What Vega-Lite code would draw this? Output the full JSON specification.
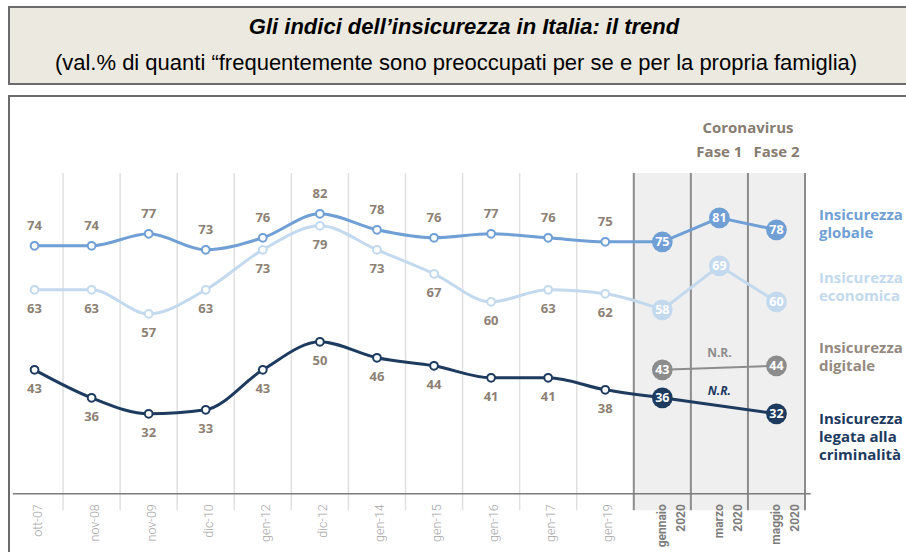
{
  "$schema": "https://vega.github.io/schema/vega-lite/v6.json",
  "padding": {"left": 8, "top": 6, "right": 0, "bottom": 0},
  "background": "white",
  "spacing": 10,
  "config": {"font": "Open Sans"},
  "datasets": {
    "pts": [
      {"cat": "ott-07", "serie": "globale", "v": 74, "periodo": "storico"},
      {"cat": "nov-08", "serie": "globale", "v": 74, "periodo": "storico"},
      {"cat": "nov-09", "serie": "globale", "v": 77, "periodo": "storico"},
      {"cat": "dic-10", "serie": "globale", "v": 73, "periodo": "storico"},
      {"cat": "gen-12", "serie": "globale", "v": 76, "periodo": "storico"},
      {"cat": "dic-12", "serie": "globale", "v": 82, "periodo": "storico"},
      {"cat": "gen-14", "serie": "globale", "v": 78, "periodo": "storico"},
      {"cat": "gen-15", "serie": "globale", "v": 76, "periodo": "storico"},
      {"cat": "gen-16", "serie": "globale", "v": 77, "periodo": "storico"},
      {"cat": "gen-17", "serie": "globale", "v": 76, "periodo": "storico"},
      {"cat": "gen-19", "serie": "globale", "v": 75, "periodo": "storico"},
      {"cat": "gennaio 2020", "serie": "globale", "v": 75, "periodo": "2020"},
      {"cat": "marzo 2020", "serie": "globale", "v": 81, "periodo": "2020"},
      {"cat": "maggio 2020", "serie": "globale", "v": 78, "periodo": "2020"},
      {"cat": "ott-07", "serie": "economica", "v": 63, "periodo": "storico"},
      {"cat": "nov-08", "serie": "economica", "v": 63, "periodo": "storico"},
      {"cat": "nov-09", "serie": "economica", "v": 57, "periodo": "storico"},
      {"cat": "dic-10", "serie": "economica", "v": 63, "periodo": "storico"},
      {"cat": "gen-12", "serie": "economica", "v": 73, "periodo": "storico"},
      {"cat": "dic-12", "serie": "economica", "v": 79, "periodo": "storico"},
      {"cat": "gen-14", "serie": "economica", "v": 73, "periodo": "storico"},
      {"cat": "gen-15", "serie": "economica", "v": 67, "periodo": "storico"},
      {"cat": "gen-16", "serie": "economica", "v": 60, "periodo": "storico"},
      {"cat": "gen-17", "serie": "economica", "v": 63, "periodo": "storico"},
      {"cat": "gen-19", "serie": "economica", "v": 62, "periodo": "storico"},
      {"cat": "gennaio 2020", "serie": "economica", "v": 58, "periodo": "2020"},
      {"cat": "marzo 2020", "serie": "economica", "v": 69, "periodo": "2020"},
      {"cat": "maggio 2020", "serie": "economica", "v": 60, "periodo": "2020"},
      {"cat": "gennaio 2020", "serie": "digitale", "v": 43, "periodo": "2020"},
      {"cat": "maggio 2020", "serie": "digitale", "v": 44, "periodo": "2020"},
      {"cat": "ott-07", "serie": "criminalita", "v": 43, "periodo": "storico"},
      {"cat": "nov-08", "serie": "criminalita", "v": 36, "periodo": "storico"},
      {"cat": "nov-09", "serie": "criminalita", "v": 32, "periodo": "storico"},
      {"cat": "dic-10", "serie": "criminalita", "v": 33, "periodo": "storico"},
      {"cat": "gen-12", "serie": "criminalita", "v": 43, "periodo": "storico"},
      {"cat": "dic-12", "serie": "criminalita", "v": 50, "periodo": "storico"},
      {"cat": "gen-14", "serie": "criminalita", "v": 46, "periodo": "storico"},
      {"cat": "gen-15", "serie": "criminalita", "v": 44, "periodo": "storico"},
      {"cat": "gen-16", "serie": "criminalita", "v": 41, "periodo": "storico"},
      {"cat": "gen-17", "serie": "criminalita", "v": 41, "periodo": "storico"},
      {"cat": "gen-19", "serie": "criminalita", "v": 38, "periodo": "storico"},
      {"cat": "gennaio 2020", "serie": "criminalita", "v": 36, "periodo": "2020"},
      {"cat": "maggio 2020", "serie": "criminalita", "v": 32, "periodo": "2020"}
    ],
    "cats": [
      {"cat": "ott-07", "label": "ott-07", "periodo": "storico"},
      {"cat": "nov-08", "label": "nov-08", "periodo": "storico"},
      {"cat": "nov-09", "label": "nov-09", "periodo": "storico"},
      {"cat": "dic-10", "label": "dic-10", "periodo": "storico"},
      {"cat": "gen-12", "label": "gen-12", "periodo": "storico"},
      {"cat": "dic-12", "label": "dic-12", "periodo": "storico"},
      {"cat": "gen-14", "label": "gen-14", "periodo": "storico"},
      {"cat": "gen-15", "label": "gen-15", "periodo": "storico"},
      {"cat": "gen-16", "label": "gen-16", "periodo": "storico"},
      {"cat": "gen-17", "label": "gen-17", "periodo": "storico"},
      {"cat": "gen-19", "label": "gen-19", "periodo": "storico"},
      {"cat": "gennaio 2020", "label": "gennaio\n2020", "periodo": "2020"},
      {"cat": "marzo 2020", "label": "marzo\n2020", "periodo": "2020"},
      {"cat": "maggio 2020", "label": "maggio\n2020", "periodo": "2020"}
    ]
  },
  "vconcat": [
    {
      "width": 898,
      "height": 77,
      "view": {"fill": "#eceae0", "stroke": "#6b6b6b", "strokeWidth": 2},
      "data": {"values": [
        {"riga": "t", "testo": "Gli indici dell’insicurezza in Italia: il trend"},
        {"riga": "s", "testo": "(val.% di quanti “frequentemente sono preoccupati per se e per la propria famiglia)"}
      ]},
      "encoding": {
        "y": {"field": "riga", "type": "nominal", "scale": {"type": "point", "domain": ["t", "s"], "range": [20, 56], "padding": 0}, "axis": null},
        "text": {"field": "testo"}
      },
      "layer": [
        {
          "transform": [{"filter": "datum.riga == 't'"}],
          "mark": {"type": "text", "font": "Liberation Sans", "fontSize": 22, "fontStyle": "italic", "fontWeight": "bold", "color": "#000000", "baseline": "middle", "dx": 6}
        },
        {
          "transform": [{"filter": "datum.riga == 's'"}],
          "mark": {"type": "text", "font": "Liberation Sans", "fontSize": 22, "color": "#000000", "baseline": "middle", "dx": -2}
        }
      ]
    },
    {
      "width": 898,
      "height": 459,
      "view": {"stroke": "#6b6b6b", "strokeWidth": 2, "fill": "white"},
      "data": {"name": "pts"},
      "encoding": {
        "x": {"field": "cat", "type": "nominal", "axis": null,
          "scale": {"type": "band", "domain": ["ott-07","nov-08","nov-09","dic-10","gen-12","dic-12","gen-14","gen-15","gen-16","gen-17","gen-19","gennaio 2020","marzo 2020","maggio 2020"], "range": [-3, 796], "paddingInner": 0, "paddingOuter": 0}}
      },
      "layer": [
        {
          "data": {"name": "cats"},
          "transform": [{"filter": "datum.periodo == '2020'"}],
          "mark": {"type": "rect", "fill": "#efefef"},
          "encoding": {"y": {"datum": 92.2, "axis": null}, "y2": {"datum": 7.9}}
        },
        {
          "data": {"name": "cats"},
          "transform": [{"filter": "datum.periodo == 'storico' && datum.cat != 'ott-07'"}],
          "mark": {"type": "rule", "color": "#e0e0e0", "strokeWidth": 1.5},
          "encoding": {"x": {"field": "cat", "type": "nominal", "bandPosition": 0}, "y": {"datum": 92.2, "axis": null}, "y2": {"datum": 7.9}}
        },
        {
          "data": {"name": "cats"},
          "transform": [{"filter": "datum.periodo == '2020'"}],
          "mark": {"type": "rule", "color": "#8c8c8c", "strokeWidth": 2},
          "encoding": {"x": {"field": "cat", "type": "nominal", "bandPosition": 0}, "y": {"datum": 92.2, "axis": null}, "y2": {"datum": 7.9}}
        },
        {
          "data": {"values": [{"cat": "maggio 2020"}]},
          "mark": {"type": "rule", "color": "#8c8c8c", "strokeWidth": 2},
          "encoding": {"x": {"field": "cat", "type": "nominal", "bandPosition": 1}, "y": {"datum": 92.2, "axis": null}, "y2": {"datum": 7.9}}
        },
        {
          "data": {"values": [{"inizio": "ott-07", "fine": "maggio 2020"}]},
          "mark": {"type": "rule", "color": "#7c7c7c", "strokeWidth": 1.5},
          "encoding": {"x": {"field": "inizio", "type": "nominal", "bandPosition": 0.12}, "x2": {"field": "fine", "bandPosition": 1.1}, "y": {"datum": 12, "axis": null}}
        },
        {
          "transform": [{"filter": "datum.periodo == 'storico' || datum.cat == 'gennaio 2020'"}],
          "mark": {"type": "line", "interpolate": "monotone", "strokeWidth": 3},
          "encoding": {
            "y": {"field": "v", "type": "quantitative", "axis": null, "scale": {"domain": [-3.3, 111.45], "nice": false, "zero": false}},
            "color": {"field": "serie", "type": "nominal", "legend": null,
              "scale": {"domain": ["globale", "economica", "digitale", "criminalita"], "range": ["#6f9fd4", "#c3d9ee", "#8c8c8c", "#1d3a5f"]}},
            "order": {"value": null}
          }
        },
        {
          "transform": [{"filter": "datum.periodo == '2020' && datum.serie != 'digitale'"}],
          "mark": {"type": "line", "strokeWidth": 3},
          "encoding": {
            "y": {"field": "v", "type": "quantitative", "axis": null},
            "color": {"field": "serie", "type": "nominal", "legend": null},
            "order": {"value": null}
          }
        },
        {
          "transform": [{"filter": "datum.serie == 'digitale'"}],
          "mark": {"type": "line", "strokeWidth": 2},
          "encoding": {
            "y": {"field": "v", "type": "quantitative", "axis": null},
            "color": {"field": "serie", "type": "nominal", "legend": null},
            "order": {"value": null}
          }
        },
        {
          "transform": [{"filter": "datum.periodo == 'storico'"}],
          "mark": {"type": "point", "shape": "circle", "fill": "white", "strokeWidth": 2, "size": 60, "opacity": 1, "filled": false},
          "encoding": {
            "y": {"field": "v", "type": "quantitative", "axis": null},
            "stroke": {"field": "serie", "type": "nominal", "legend": null, "scale": {"domain": ["globale", "economica", "digitale", "criminalita"], "range": ["#6f9fd4", "#c3d9ee", "#8c8c8c", "#1d3a5f"]}}
          }
        },
        {
          "transform": [{"filter": "datum.periodo == '2020'"}],
          "mark": {"type": "circle", "size": 430, "opacity": 1},
          "encoding": {
            "y": {"field": "v", "type": "quantitative", "axis": null},
            "color": {"field": "serie", "type": "nominal", "legend": null}
          }
        },
        {
          "transform": [{"filter": "datum.periodo == '2020'"}],
          "mark": {"type": "text", "color": "white", "fontSize": 12.5, "fontWeight": "bold", "baseline": "middle", "align": "center"},
          "encoding": {
            "y": {"field": "v", "type": "quantitative", "axis": null},
            "text": {"field": "v", "type": "quantitative"}
          }
        },
        {
          "transform": [{"filter": "datum.periodo == 'storico' && datum.serie == 'globale'"}],
          "mark": {"type": "text", "color": "#8d8175", "fontSize": 13, "fontWeight": "bold", "baseline": "middle", "dy": -20},
          "encoding": {
            "y": {"field": "v", "type": "quantitative", "axis": null},
            "text": {"field": "v", "type": "quantitative"}
          }
        },
        {
          "transform": [{"filter": "datum.periodo == 'storico' && datum.serie != 'globale'"}],
          "mark": {"type": "text", "color": "#8d8175", "fontSize": 13, "fontWeight": "bold", "baseline": "middle", "dy": 19},
          "encoding": {
            "y": {"field": "v", "type": "quantitative", "axis": null},
            "text": {"field": "v", "type": "quantitative"}
          }
        },
        {
          "data": {"name": "cats"},
          "transform": [{"filter": "datum.periodo == 'storico'"}],
          "mark": {"type": "text", "font": "Roboto", "fontWeight": 300, "fontSize": 12.5, "color": "#a6a6a6", "angle": 270, "align": "right", "baseline": "middle", "dy": 3},
          "encoding": {"y": {"datum": 9.4, "axis": null}, "text": {"field": "label"}}
        },
        {
          "data": {"name": "cats"},
          "transform": [{"filter": "datum.periodo == '2020'"}],
          "mark": {"type": "text", "font": "Roboto", "fontWeight": "bold", "fontSize": 12, "color": "#7d7d7d", "angle": 270, "align": "right", "baseline": "middle", "lineBreak": "\n", "lineHeight": 19},
          "encoding": {"y": {"datum": 9.4, "axis": null}, "text": {"field": "label"}}
        },
        {
          "data": {"values": [{"cat": "marzo 2020", "nota": "N.R."}]},
          "mark": {"type": "text", "color": "#8d8d8d", "fontSize": 12, "fontWeight": "bold", "baseline": "middle", "dy": -15},
          "encoding": {"text": {"field": "nota"}, "y": {"datum": 43.5, "axis": null}}
        },
        {
          "data": {"values": [{"cat": "marzo 2020", "nota": "N.R."}]},
          "mark": {"type": "text", "color": "#1d3a5f", "fontSize": 12, "fontWeight": "bold", "fontStyle": "italic", "baseline": "middle", "dy": -15},
          "encoding": {"text": {"field": "nota"}, "y": {"datum": 34, "axis": null}}
        },
        {
          "data": {"values": [{"cat": "maggio 2020", "testo": "Coronavirus"}]},
          "mark": {"type": "text", "color": "#877c71", "fontSize": 15, "fontWeight": "bold", "baseline": "middle"},
          "encoding": {"text": {"field": "testo"}, "x": {"field": "cat", "type": "nominal", "bandPosition": 0}, "y": {"datum": 103.4, "axis": null}}
        },
        {
          "data": {"values": [{"cat": "marzo 2020", "testo": "Fase 1"}, {"cat": "maggio 2020", "testo": "Fase 2"}]},
          "mark": {"type": "text", "color": "#877c71", "fontSize": 15, "fontWeight": "bold", "baseline": "middle"},
          "encoding": {"text": {"field": "testo"}, "y": {"datum": 97.4, "axis": null}}
        },
        {
          "data": {"values": [{"cat": "maggio 2020", "testo": "Insicurezza\nglobale"}]},
          "mark": {"type": "text", "color": "#6f9fd4", "fontSize": 15, "fontWeight": "bold", "align": "left", "baseline": "middle", "lineBreak": "\n", "lineHeight": 18, "dx": 14},
          "encoding": {"text": {"field": "testo"}, "x": {"field": "cat", "type": "nominal", "bandPosition": 1}, "y": {"datum": 81.8, "axis": null}}
        },
        {
          "data": {"values": [{"cat": "maggio 2020", "testo": "Insicurezza\neconomica"}]},
          "mark": {"type": "text", "color": "#c3d9ee", "fontSize": 15, "fontWeight": "bold", "align": "left", "baseline": "middle", "lineBreak": "\n", "lineHeight": 18, "dx": 14},
          "encoding": {"text": {"field": "testo"}, "x": {"field": "cat", "type": "nominal", "bandPosition": 1}, "y": {"datum": 66, "axis": null}}
        },
        {
          "data": {"values": [{"cat": "maggio 2020", "testo": "Insicurezza\ndigitale"}]},
          "mark": {"type": "text", "color": "#958a80", "fontSize": 15, "fontWeight": "bold", "align": "left", "baseline": "middle", "lineBreak": "\n", "lineHeight": 18, "dx": 14},
          "encoding": {"text": {"field": "testo"}, "x": {"field": "cat", "type": "nominal", "bandPosition": 1}, "y": {"datum": 48.4, "axis": null}}
        },
        {
          "data": {"values": [{"cat": "maggio 2020", "testo": "Insicurezza\nlegata alla\ncriminalità"}]},
          "mark": {"type": "text", "color": "#1d3a5f", "fontSize": 15, "fontWeight": "bold", "align": "left", "baseline": "middle", "lineBreak": "\n", "lineHeight": 18, "dx": 14},
          "encoding": {"text": {"field": "testo"}, "x": {"field": "cat", "type": "nominal", "bandPosition": 1}, "y": {"datum": 30.7, "axis": null}}
        }
      ]
    }
  ]
}
